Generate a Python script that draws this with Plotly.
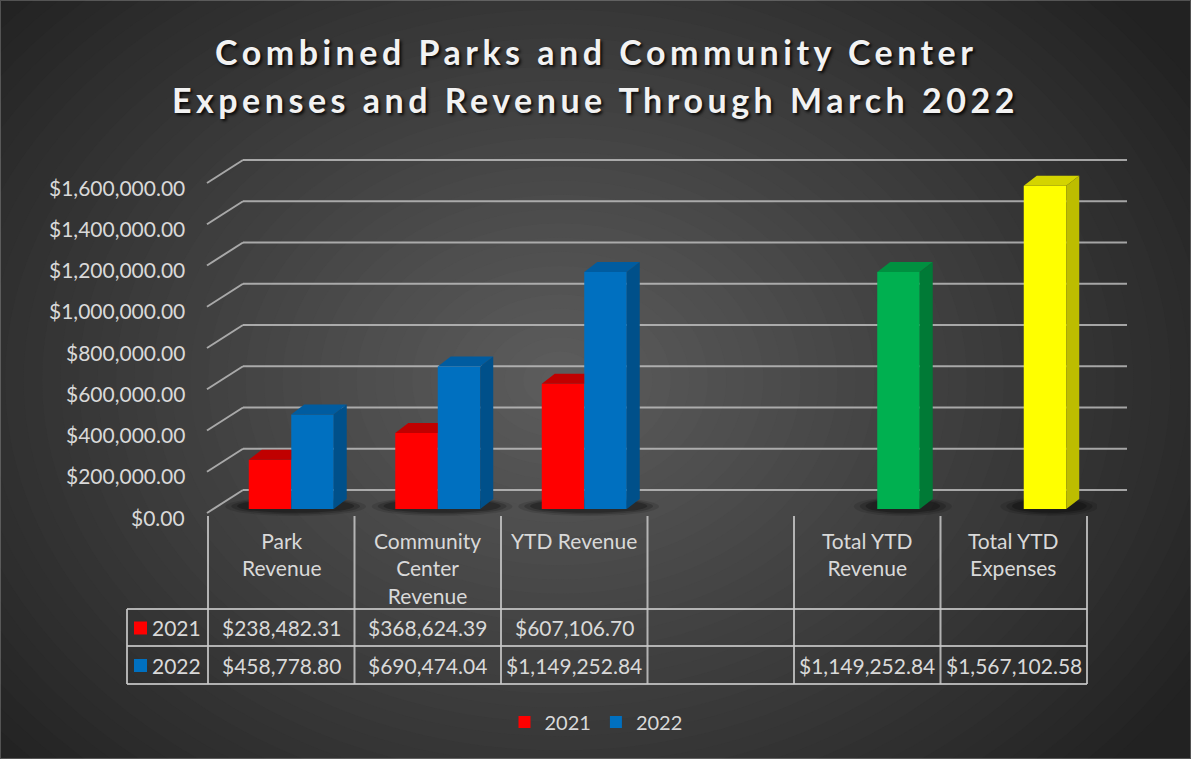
import plotly.graph_objects as go

# ---------------- data ----------------
categories = ["Park Revenue", "Community Center Revenue", "YTD Revenue", "",
              "Total YTD Revenue", "Total YTD Expenses"]
header_labels = ["Park<br>Revenue", "Community<br>Center<br>Revenue", "YTD Revenue", "",
                 "Total YTD<br>Revenue", "Total YTD<br>Expenses"]
series_names = ["2021", "2022"]
values_2021 = [238482.31, 368624.39, 607106.70, None, None, None]
values_2022 = [458778.80, 690474.04, 1149252.84, None, 1149252.84, 1567102.58]
y_ticks = [0, 200000, 400000, 600000, 800000, 1000000, 1200000, 1400000, 1600000]
title_lines = ["Combined Parks and Community Center",
               "Expenses and Revenue Through March 2022"]

# ---------------- styles ----------------
front_2021 = ["#FF0000"] * 6
top_2021 = ["#C00000"] * 6
side_2021 = ["#A00000"] * 6
front_2022 = ["#0070C0", "#0070C0", "#0070C0", "#0070C0", "#00B050", "#FFFF00"]
top_2022 = ["#005CA0", "#005CA0", "#005CA0", "#005CA0", "#009040", "#D4D400"]
side_2022 = ["#00508A", "#00508A", "#00508A", "#00508A", "#007A36", "#BDBD00"]
TEXT = "#D9D9D9"
FONT = "Lato"

# ---------------- layout geometry (pixels) ----------------
W, H = 1191, 759
PL, PR, PT, PB = 218, 1097, 140, 520
Y0 = 509                      # pixel of value 0 (bar front plane)
SCALE = 330 / 1.6e6           # px per unit on y
N = len(categories)
UX = (PR - PL) / N            # px per x unit
yr = [-(PB - Y0) / SCALE, (Y0 - PT) / SCALE]
xr = [-0.5, N - 0.5]
DX = 13 / UX                  # depth offset in x units
DY = 10 / SCALE               # depth offset in y units
BAR_W = 0.29


def px(X):
    return (X - PL) / (PR - PL)


def py(Y):
    return (PB - Y) / (PB - PT)


fig = go.Figure()

shapes = []
annotations = []

# ---- background radial gradient (nested opaque ellipses) ----
base = 34
peak = 92
steps = 40
cx, cy = 560, 380
rx_max, ry_max = 740, 570
for k in range(steps):
    f = 1 - k / steps
    rx, ry = rx_max * f, ry_max * f
    v = int(round(base + (peak - base) * (k + 1) / steps))
    shapes.append(dict(type="circle", xref="paper", yref="paper",
                       x0=px(cx - rx), x1=px(cx + rx), y0=py(cy + ry), y1=py(cy - ry),
                       fillcolor=f"rgb({v},{v},{v})", line=dict(width=0), layer="below"))

GRID = "rgba(195,195,195,0.8)"
FRONT_X, BACK_X, BACK_R = 207, 243, 1127
# ---- back wall gridlines and side diagonals ----
for t in y_ticks:
    shapes.append(dict(type="line", xref="paper", yref="y", ysizemode="pixel", yanchor=t,
                       x0=px(BACK_X), x1=px(BACK_R), y0=19, y1=19,
                       line=dict(color=GRID, width=2), layer="below"))
    shapes.append(dict(type="line", xref="paper", yref="y", ysizemode="pixel", yanchor=t,
                       x0=px(FRONT_X), x1=px(BACK_X), y0=-4, y1=19,
                       line=dict(color=GRID, width=2), layer="below"))
    annotations.append(dict(text=f"${t:,.2f}", xref="paper", yref="y", x=px(187), y=t,
                            yshift=-8, xanchor="right", yanchor="middle", showarrow=False,
                            font=dict(family=FONT, size=21, color=TEXT)))

# ---- bars ----
bargap = 1 - 2 * BAR_W
fig.add_trace(go.Bar(x=list(range(N)), y=values_2021, name=series_names[0],
                     marker=dict(color=front_2021, line=dict(width=0)), hoverinfo="skip"))
fig.add_trace(go.Bar(x=list(range(N)), y=values_2022, name=series_names[1],
                     marker=dict(color=front_2022, line=dict(width=0)), hoverinfo="skip"))


def poly(xs, ys, color):
    fig.add_trace(go.Scatter(x=xs + [xs[0]], y=ys + [ys[0]], mode="lines", fill="toself",
                             fillcolor=color, line=dict(width=0, color=color),
                             hoverinfo="skip", showlegend=False))


# ---- 3D faces and floor shadows ----
for i in range(N):
    v1, v2 = values_2021[i], values_2022[i]
    lefts, rights = [], []
    if v1 is not None:
        lefts.append(i - BAR_W); rights.append(i)
    if v2 is not None:
        lefts.append(i); rights.append(i + BAR_W)
    if lefts:
        for grow, alpha in ((0.10, 0.12), (0.06, 0.18), (0.02, 0.25)):
            shapes.append(dict(type="circle", xref="x", yref="y", ysizemode="pixel", yanchor=0,
                               x0=min(lefts) - 0.06 - grow, x1=max(rights) + 0.12 + grow,
                               y0=-3 - grow * 40, y1=9 + grow * 30,
                               fillcolor=f"rgba(0,0,0,{alpha})", line=dict(width=0),
                               layer="below"))
    if v1 is not None:
        x0, x1 = i - BAR_W, i
        if v2 is not None and v2 >= v1 + DY:
            poly([x0, x1, x1, x0 + DX], [v1, v1, v1 + DY, v1 + DY], top_2021[i])
        else:
            poly([x0, x1, x1 + DX, x0 + DX], [v1, v1, v1 + DY, v1 + DY], top_2021[i])
            if v2 is None:
                poly([x1, x1, x1 + DX, x1 + DX], [0, v1, v1 + DY, DY], side_2021[i])
    if v2 is not None:
        x0, x1 = i, i + BAR_W
        poly([x0, x1, x1 + DX, x0 + DX], [v2, v2, v2 + DY, v2 + DY], top_2022[i])
        poly([x1, x1, x1 + DX, x1 + DX], [0, v2, v2 + DY, DY], side_2022[i])

# ---- data table ----
TLINE = "rgba(200,200,200,0.85)"
T_SHIFT = -10
edges = [PL + T_SHIFT + k * UX for k in range(N + 1)]
ROW_TOP, ROW_MID, ROW_BOT = 609, 646, 684
LABEL_L = 127
for X in edges:
    shapes.append(dict(type="line", xref="paper", yref="paper", x0=px(X), x1=px(X),
                       y0=py(516), y1=py(ROW_BOT), line=dict(color=TLINE, width=2)))
shapes.append(dict(type="line", xref="paper", yref="paper", x0=px(LABEL_L), x1=px(LABEL_L),
                   y0=py(ROW_TOP), y1=py(ROW_BOT), line=dict(color=TLINE, width=2)))
for Y in (ROW_TOP, ROW_MID, ROW_BOT):
    shapes.append(dict(type="line", xref="paper", yref="paper", x0=px(LABEL_L), x1=px(edges[-1]),
                       y0=py(Y), y1=py(Y), line=dict(color=TLINE, width=2)))

for i in range(N):
    cxp = (edges[i] + edges[i + 1]) / 2
    if header_labels[i]:
        annotations.append(dict(text=header_labels[i], xref="paper", yref="paper",
                                x=px(cxp), y=py(526), xanchor="center", yanchor="top",
                                showarrow=False, align="center",
                                font=dict(family=FONT, size=21, color=TEXT)))
    for vals, Yc in ((values_2021, (ROW_TOP + ROW_MID) / 2), (values_2022, (ROW_MID + ROW_BOT) / 2)):
        if vals[i] is not None:
            annotations.append(dict(text=f"${vals[i]:,.2f}", xref="paper", yref="paper",
                                    x=px(cxp), y=py(Yc), xanchor="center", yanchor="middle",
                                    showarrow=False, font=dict(family=FONT, size=21, color=TEXT)))

row_colors = [front_2021[0], front_2022[0]]
for name, col, Yc in zip(series_names, row_colors,
                         ((ROW_TOP + ROW_MID) / 2, (ROW_MID + ROW_BOT) / 2)):
    shapes.append(dict(type="rect", xref="paper", yref="paper",
                       x0=px(LABEL_L + 7), x1=px(LABEL_L + 20), y0=py(Yc + 7), y1=py(Yc - 6),
                       fillcolor=col, line=dict(width=0)))
    annotations.append(dict(text=name, xref="paper", yref="paper", x=px(edges[0] - 5),
                            y=py(Yc), xanchor="right", yanchor="middle", showarrow=False,
                            font=dict(family=FONT, size=21, color=TEXT)))

# ---- title (two letter-spaced lines) ----
for line, Yc in zip(title_lines, (51, 100)):
    annotations.append(dict(text=f'<span style="letter-spacing:4.5px">{line}</span>',
                            xref="paper", yref="paper", x=px(W / 2), y=py(Yc),
                            xanchor="center", yanchor="middle", showarrow=False,
                            font=dict(family=FONT, size=34, color="#F2F2F2", weight="bold",
                                      shadow="2px 2px 3px rgba(0,0,0,0.85)")))

# ---- outer border ----
shapes.append(dict(type="rect", xref="paper", yref="paper", x0=px(0.5), x1=px(W - 0.5),
                   y0=py(H - 0.5), y1=py(0.5), line=dict(color="rgba(255,255,255,0.22)", width=1)))

fig.update_layout(
    width=W, height=H,
    margin=dict(l=PL, r=W - PR, t=PT, b=H - PB, pad=0, autoexpand=False),
    paper_bgcolor=f"rgb({base},{base},{base})",
    plot_bgcolor="rgba(0,0,0,0)",
    barmode="group", bargap=bargap, bargroupgap=0,
    xaxis=dict(range=xr, visible=False, fixedrange=True),
    yaxis=dict(range=yr, visible=False, fixedrange=True),
    legend=dict(orientation="h", x=px(596), xanchor="center", y=py(722), yanchor="middle",
                font=dict(family=FONT, size=20, color=TEXT), bgcolor="rgba(0,0,0,0)",
                itemwidth=30, traceorder="normal"),
    shapes=shapes,
    annotations=annotations,
    showlegend=True,
)

fig.write_html("out.html",
               config={"displayModeBar": False},
               post_script="document.body.style.margin='0px';"
                           "document.body.style.overflow='hidden';")
